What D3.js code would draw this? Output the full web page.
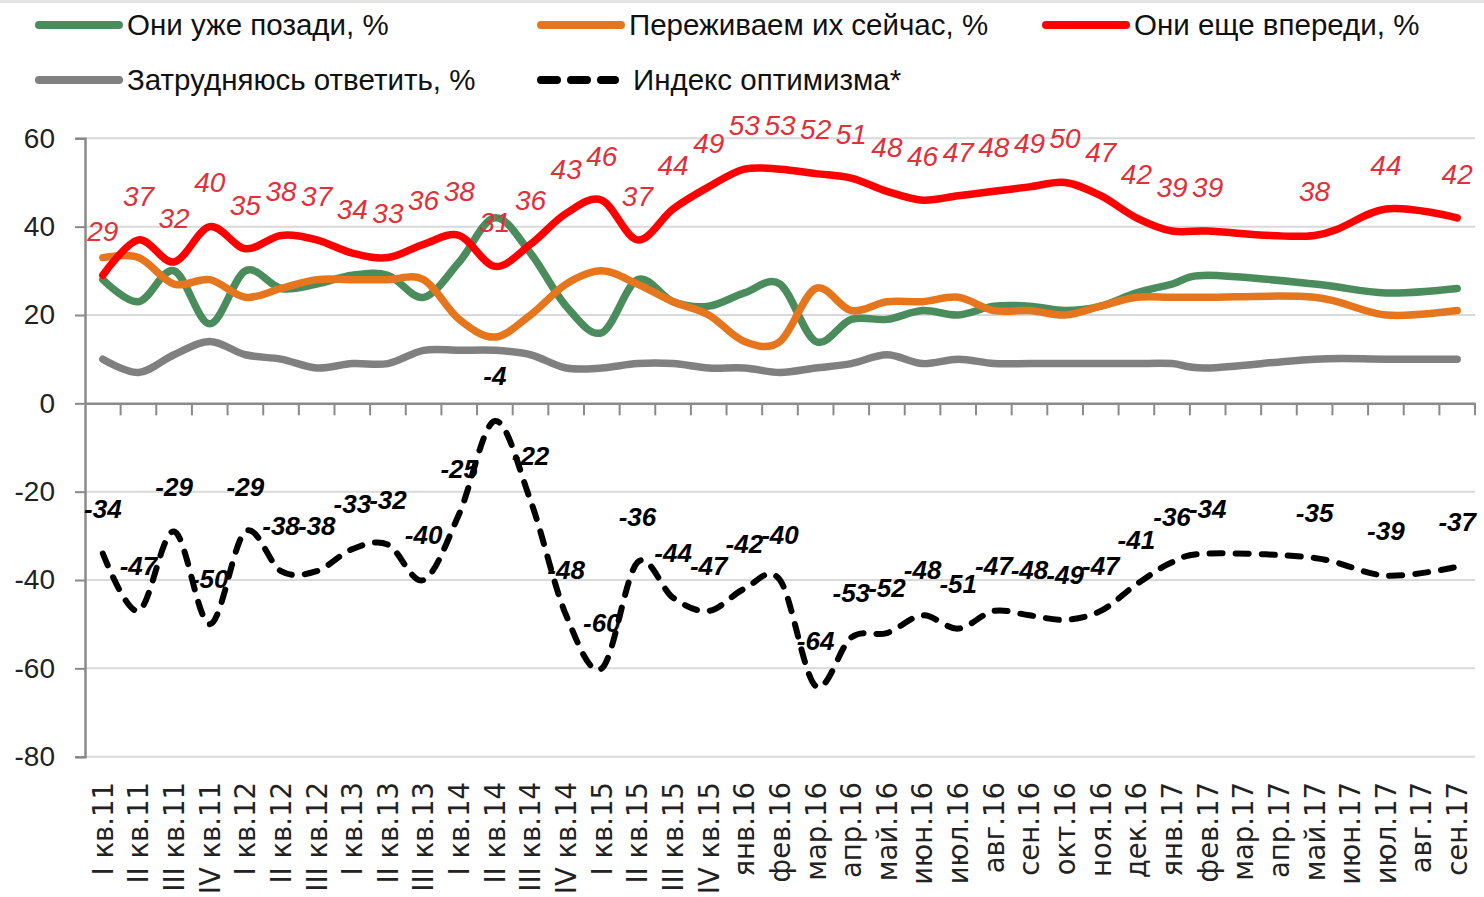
<!DOCTYPE html>
<html>
<head>
<meta charset="utf-8">
<script src="https://cdn.jsdelivr.net/npm/d3@7"></script>
<style>
  html, body { margin: 0; padding: 0; background: #fff; }
  svg { display: block; }
</style>
</head>
<body>
<svg id="chart" width="1484" height="897"></svg>
<script>
const categories = ["I кв.11","II кв.11","III кв.11","IV кв.11","I кв.12","II кв.12","III кв.12","I кв.13","II кв.13","III кв.13","I кв.14","II кв.14","III кв.14","IV кв.14","I кв.15","II кв.15","III кв.15","IV кв.15","янв.16","фев.16","мар.16","апр.16","май.16","июн.16","июл.16","авг.16","сен.16","окт.16","ноя.16","дек.16","янв.17","фев.17","мар.17","апр.17","май.17","июн.17","июл.17","авг.17","сен.17"];

const behind  = [28,23,30,18,30,26,27,29,29,24,32,42,34,22,16,28,23,22,25,27,14,19,19,21,20,22,22,21,22,25,27,29,null,null,27,null,25,null,26];
const now     = [33,33,27,28,24,26,28,28,28,28,19,15,20,27,30,27,23,20,14,14,26,21,23,23,24,21,21,20,22,24,24,24,null,null,24,null,20,null,21];
const ahead   = [29,37,32,40,35,38,37,34,33,36,38,31,36,43,46,37,44,49,53,53,52,51,48,46,47,48,49,50,47,42,39,39,null,null,38,null,44,null,42];
const unsure  = [10,7,11,14,11,10,8,9,9,12,12,12,11,8,8,9,9,8,8,7,8,9,11,9,10,9,9,9,9,9,9,8,null,null,10,null,10,null,10];
const optimism= [-34,-47,-29,-50,-29,-38,-38,-33,-32,-40,-25,-4,-22,-48,-60,-36,-44,-47,-42,-40,-64,-53,-52,-48,-51,-47,-48,-49,-47,-41,-36,-34,null,null,-35,null,-39,null,-37];

const yTicks = [60,40,20,0,-20,-40,-60,-80];

const seriesNames = ["Они уже позади, %","Переживаем их сейчас, %","Они еще впереди, %","Затрудняюсь ответить, %","Индекс оптимизма*"];

const COL = { green:"#4a8c5c", orange:"#e5761e", red:"#ff0000", gray:"#808080", black:"#000", redText:"#e0303a" };

const svg = d3.select("#chart");

svg.append("rect").attr("x",0).attr("y",0).attr("width",1484).attr("height",3).attr("fill","#e3e3e3");

const x = d3.scaleBand().domain(categories).range([85, 1475]).paddingInner(0).paddingOuter(0);
const y = d3.scaleLinear().domain([-80, 60]).range([756.7, 138.3]);
const cx = c => x(c) + x.bandwidth()/2;

// gridlines
svg.append("g").selectAll("line").data(yTicks.filter(t => t !== 0)).join("line")
  .attr("x1", 85).attr("x2", 1475)
  .attr("y1", d => y(d)).attr("y2", d => y(d))
  .attr("stroke", "#d9d9d9").attr("stroke-width", 2);

// y axis
const yAxis = d3.axisLeft(y).tickValues(yTicks).tickSize(10).tickFormat(d => String(d));
const gy = svg.append("g").attr("transform","translate(85,0)").call(yAxis);
gy.select(".domain").attr("stroke","#8a8a8a").attr("stroke-width",2.5);
gy.selectAll(".tick line").attr("stroke","#8a8a8a").attr("stroke-width",2);
gy.selectAll(".tick text").attr("x",-30).attr("fill","#222")
  .style("font-family","'Liberation Sans', Arial, sans-serif").style("font-size","28px");

// x axis at zero
const xAxis = d3.axisBottom(x).tickSize(0).tickFormat("");
const gx = svg.append("g").attr("transform",`translate(0,${y(0)})`).call(xAxis);
gx.select(".domain").attr("stroke","#8a8a8a").attr("stroke-width",2.5);
// ticks at category boundaries
const bounds = categories.map(c => x(c)).concat([x(categories[categories.length-1]) + x.bandwidth()]);
svg.append("g").selectAll("line").data(bounds.slice(1)).join("line")
  .attr("x1", d => d).attr("x2", d => d)
  .attr("y1", y(0)).attr("y2", y(0) + 12)
  .attr("stroke","#8a8a8a").attr("stroke-width",2);

// x labels
svg.append("g").selectAll("text").data(categories).join("text")
  .attr("transform", d => `translate(${cx(d)},782) rotate(-90)`)
  .attr("text-anchor","end").attr("dy","0.36em")
  .attr("fill","#222")
  .style("font-family","'DejaVu Sans', Verdana, sans-serif").style("font-size","27.5px")
  .text(d => d);

function pts(arr){ return categories.map((c,i)=>({c, v:arr[i]})).filter(d => d.v !== null); }

const line = d3.line().x(d => cx(d.c)).y(d => y(d.v)).curve(d3.curveCatmullRom.alpha(0));

const seriesDefs = [
  {arr: behind, color: COL.green},
  {arr: now, color: COL.orange},
  {arr: ahead, color: COL.red},
  {arr: unsure, color: COL.gray},
];
seriesDefs.forEach(s => {
  svg.append("path").datum(pts(s.arr)).attr("d", line)
    .attr("fill","none").attr("stroke", s.color).attr("stroke-width", 7.5)
    .attr("stroke-linejoin","round").attr("stroke-linecap","round");
});
svg.append("path").datum(pts(optimism)).attr("d", line)
  .attr("fill","none").attr("stroke","#000").attr("stroke-width",6)
  .attr("stroke-dasharray","13 13").attr("stroke-linecap","round");

// data labels
svg.append("g").selectAll("text").data(pts(ahead)).join("text")
  .attr("x", d => cx(d.c)).attr("y", d => y(d.v) - 44)
  .attr("text-anchor","middle").attr("dy","0.35em")
  .attr("fill", COL.redText)
  .style("font-family","'Liberation Sans', Arial, sans-serif").style("font-size","28px").style("font-style","italic")
  .text(d => d.v);

svg.append("g").selectAll("text").data(pts(optimism)).join("text")
  .attr("x", d => cx(d.c)).attr("y", d => y(d.v) - 45)
  .attr("text-anchor","middle").attr("dy","0.35em")
  .attr("fill","#000")
  .style("font-family","'Liberation Sans', Arial, sans-serif").style("font-size","26px")
  .style("font-style","italic").style("font-weight","bold")
  .text(d => d.v);

// legend
const legend = [
  {name: seriesNames[0], color: COL.green, x: 35, y: 25},
  {name: seriesNames[1], color: COL.orange, x: 537, y: 25},
  {name: seriesNames[2], color: COL.red, x: 1042, y: 25},
  {name: seriesNames[3], color: COL.gray, x: 35, y: 80},
  {name: seriesNames[4], color: "#000", x: 537, y: 80, dashed: true},
];
const lg = svg.append("g").selectAll("g").data(legend).join("g");
lg.append("line")
  .attr("x1", d => d.x + 4).attr("x2", d => d.dashed ? d.x + 78 : d.x + 84)
  .attr("y1", d => d.y).attr("y2", d => d.y)
  .attr("stroke", d => d.color).attr("stroke-width", 8).attr("stroke-linecap","round")
  .attr("stroke-dasharray", d => d.dashed ? "16 14" : null);
lg.append("text")
  .attr("x", d => d.dashed ? d.x + 96 : d.x + 92).attr("y", d => d.y)
  .attr("dy","0.35em").attr("fill","#111")
  .style("font-family","'Liberation Sans', Arial, sans-serif").style("font-size","29.5px")
  .text(d => d.name);
</script>
</body>
</html>
